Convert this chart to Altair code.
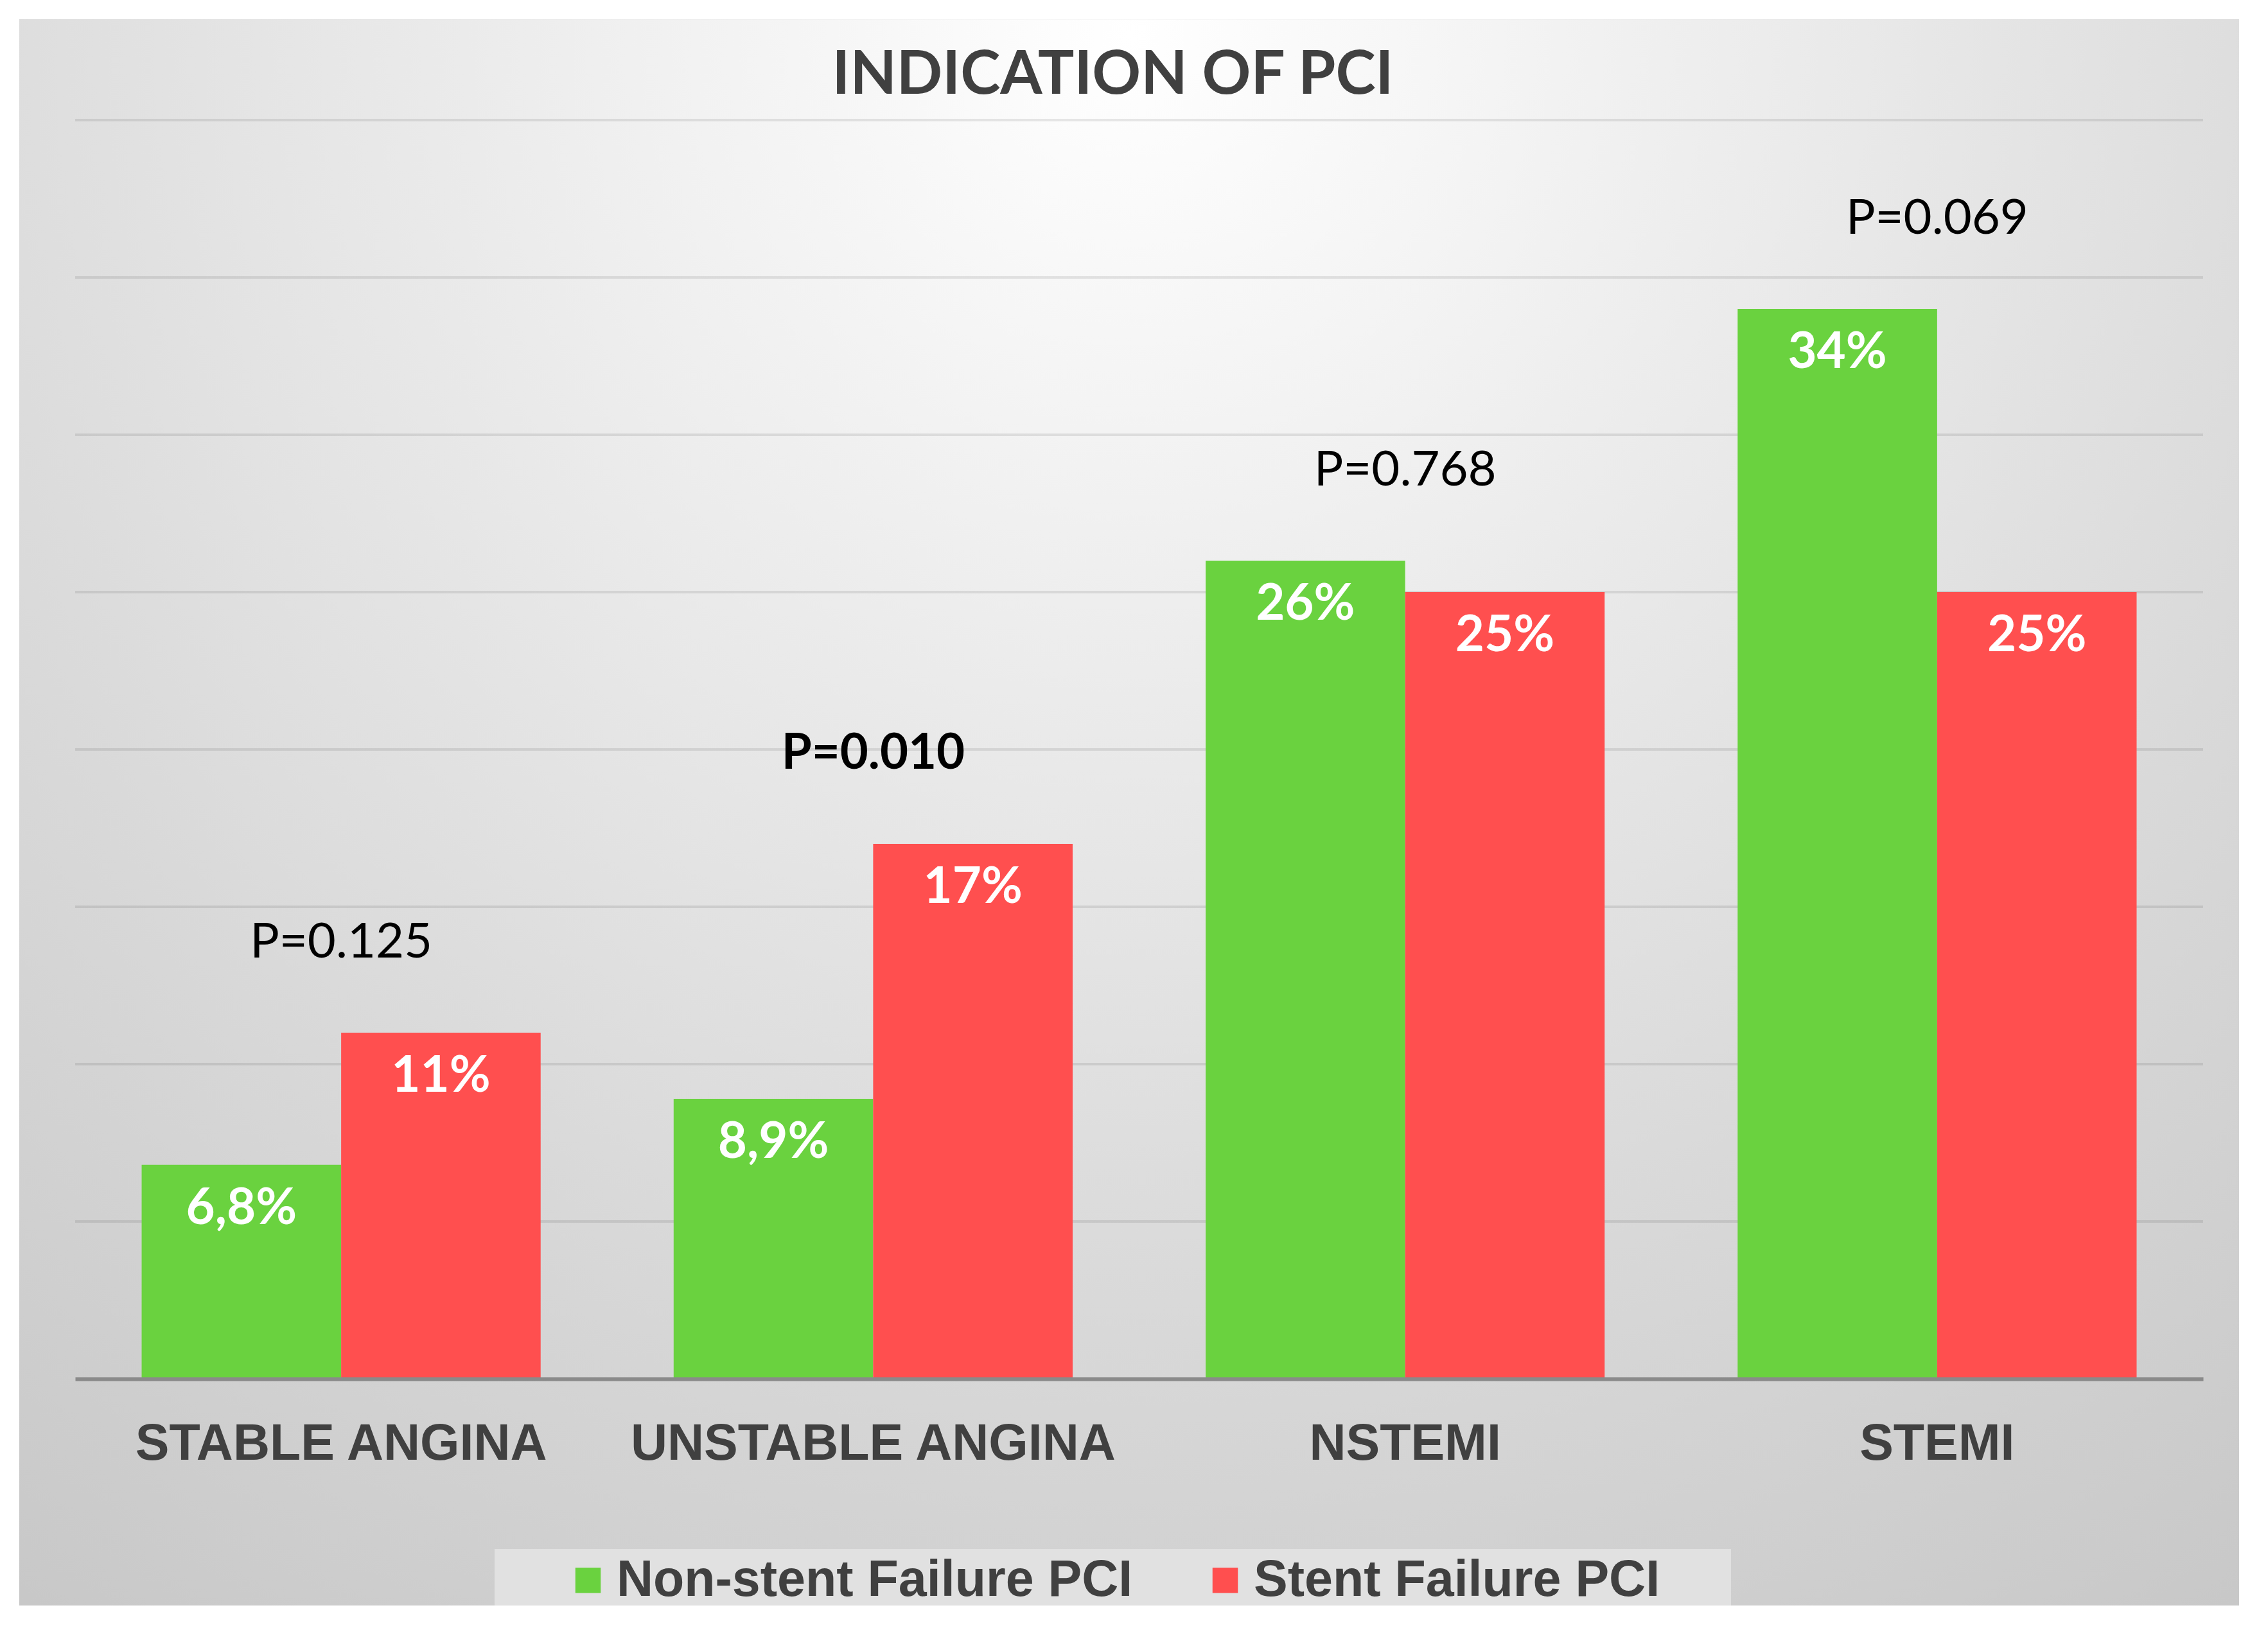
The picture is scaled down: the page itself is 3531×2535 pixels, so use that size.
import altair as alt
import pandas as pd

categories = ["STABLE ANGINA", "UNSTABLE ANGINA", "NSTEMI", "STEMI"]
series = ["Non-stent Failure PCI", "Stent Failure PCI"]
non_stent = [6.8, 8.9, 26, 34]
stent = [11, 17, 25, 25]
p_values = ["P=0.125", "P=0.010", "P=0.768", "P=0.069"]
p_bold = [False, True, False, False]
grid_ticks = [5, 10, 15, 20, 25, 30, 35, 40]

GREEN = "#6AD23F"
RED = "#FF4F4F"
W, H = 3313, 1960


def pct(v):
    return f"{v:g}".replace(".", ",") + "%"


rows = []
for i, cat in enumerate(categories):
    rows.append({"category": cat, "series": series[0], "value": non_stent[i], "label": pct(non_stent[i])})
    rows.append({"category": cat, "series": series[1], "value": stent[i], "label": pct(stent[i])})
bars_df = pd.DataFrame(rows)

p_df = pd.DataFrame({
    "category": categories,
    "p": p_values,
    "bold": p_bold,
    "top": [max(a, b) for a, b in zip(non_stent, stent)],
})
grid_df = pd.DataFrame({"tick": grid_ticks})

y_scale = alt.Scale(domain=[0, 40], nice=False)
x_enc = alt.X(
    "category:N", sort=categories,
    scale=alt.Scale(paddingInner=0.25, paddingOuter=0.125),
    axis=alt.Axis(
        title=None, labelAngle=0, labelFont="Liberation Sans", labelFontSize=79,
        labelFontWeight="bold", labelColor="#404040", labelPadding=125,
        labelBaseline="alphabetic", ticks=False, tickSize=0, domainColor="#8a8a8a",
        domainWidth=6, labelLimit=0, zindex=1, grid=False,
    ),
)
xoff_enc = alt.XOffset("series:N", sort=series, scale=alt.Scale(paddingInner=0, paddingOuter=0))

# soft radial shading behind the whole chart
bg_gradient = alt.RadialGradient(
    gradient="radial",
    stops=[
        alt.GradientStop(offset=0, color="#ffffff"),
        alt.GradientStop(offset=0.3, color="#ececec"),
        alt.GradientStop(offset=0.6, color="#d9d9d9"),
        alt.GradientStop(offset=1, color="#c3c3c3"),
    ],
    x1=0.5, y1=0.15, r1=0, x2=0.5, y2=0.15, r2=0.95,
)

background = alt.Chart(alt.Data(values=[{}])).mark_rect(fill=bg_gradient).encode(
    x=alt.value(-87), x2=alt.value(3369), y=alt.value(-157), y2=alt.value(2313)
)

legend_box = alt.Chart(alt.Data(values=[{}])).mark_rect(fill="#e1e1e1").encode(
    x=alt.value(653), x2=alt.value(2578), y=alt.value(2225), y2=alt.value(2313)
)

grid = alt.Chart(grid_df).mark_rule(color="#000000", opacity=0.09, strokeWidth=4).encode(
    y=alt.Y("tick:Q", scale=y_scale, axis=None),
    x=alt.value(0),
    x2=alt.value(W),
)

bars = alt.Chart(bars_df).mark_bar().encode(
    x=x_enc,
    xOffset=xoff_enc,
    y=alt.Y("value:Q", scale=y_scale, axis=None),
    color=alt.Color(
        "series:N",
        scale=alt.Scale(domain=series, range=[GREEN, RED]),
        legend=alt.Legend(
            title=None, orient="none", legendX=759, legendY=2234, direction="horizontal",
            symbolType="square", symbolSize=1560, symbolStrokeWidth=0,
            labelFont="Liberation Sans", labelFontSize=79, labelFontWeight="bold",
            labelColor="#404040", labelOffset=5, columnPadding=104, labelLimit=0, padding=0,
        ),
    ),
)

value_labels = alt.Chart(bars_df).mark_text(
    color="white", font="Lato", fontSize=78, fontWeight="bold", baseline="alphabetic", dy=92
).encode(
    x=x_enc,
    xOffset=xoff_enc,
    y=alt.Y("value:Q", scale=y_scale, axis=None),
    text="label:N",
)

p_normal = alt.Chart(p_df).transform_filter("!datum.bold").mark_text(
    color="black", font="Lato", fontSize=76, baseline="alphabetic", dy=-117
).encode(
    x=x_enc,
    y=alt.Y("top:Q", scale=y_scale, axis=None),
    text="p:N",
)

p_strong = alt.Chart(p_df).transform_filter("datum.bold").mark_text(
    color="black", font="Lato", fontSize=76, fontWeight="bold", baseline="alphabetic", dy=-117
).encode(
    x=x_enc,
    y=alt.Y("top:Q", scale=y_scale, axis=None),
    text="p:N",
)

chart = alt.layer(background, legend_box, grid, bars, value_labels, p_normal, p_strong).properties(
    width=W,
    height=H,
    title=alt.Title(
        "INDICATION OF PCI", font="Lato", fontSize=94, fontWeight="bold", color="#404040",
        anchor="middle", frame="group", baseline="alphabetic", offset=-210, dx=-41,
    ),
    padding={"left": 109, "top": 179, "right": 80, "bottom": 370},
    autosize=alt.AutoSizeParams(type="none"),
    background="white",
).configure_view(strokeWidth=0)

chart.save("out.html", embed_options={"renderer": "svg", "actions": False})
